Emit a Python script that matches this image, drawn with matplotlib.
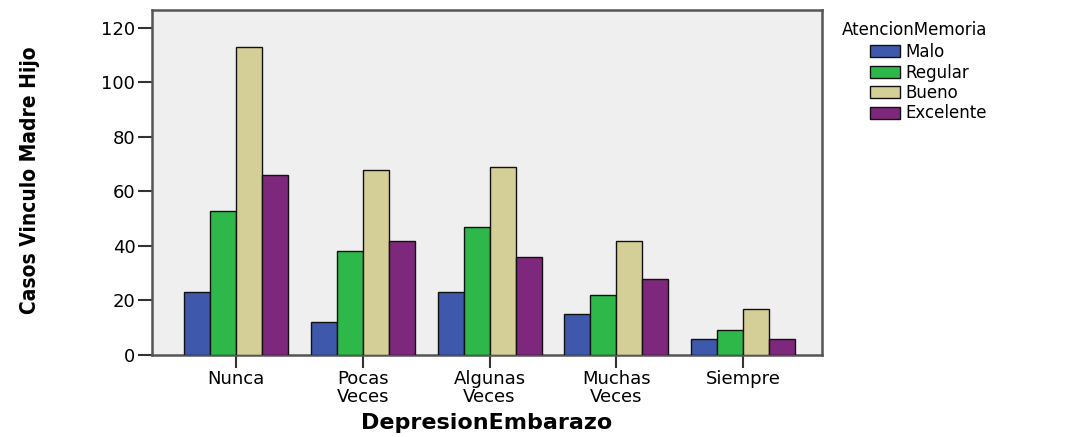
import matplotlib
matplotlib.use("Agg")
import matplotlib.pyplot as plt
import numpy as np
from matplotlib.patches import Patch

categories = ["Nunca", "Pocas\nVeces", "Algunas\nVeces", "Muchas\nVeces", "Siempre"]
series_names = ["Malo", "Regular", "Bueno", "Excelente"]
malo = [23, 12, 23, 15, 6]
regular = [53, 38, 47, 22, 9]
bueno = [113, 68, 69, 42, 17]
excelente = [66, 42, 36, 28, 6]
yticks = [0, 20, 40, 60, 80, 100, 120]
colors = ["#3E58AC", "#2EB84A", "#D4CF97", "#7E287D"]

W, H = 1087, 437
fig = plt.figure(figsize=(W / 100, H / 100), dpi=100)
ax = fig.add_axes([152 / W, 1 - 355 / H, (822 - 152) / W, (355 - 10) / H])
ax.set_facecolor("#EFEFEF")

x = np.arange(len(categories))
bw = 0.205
data = [malo, regular, bueno, excelente]
for i, (vals, c, name) in enumerate(zip(data, colors, series_names)):
    ax.bar(x + (i - 1.5) * bw, vals, width=bw, color=c, edgecolor="#111111",
           linewidth=1.0, label=name, zorder=3)

ax.set_xlim(-0.66, 4.62)
ax.set_ylim(0, 126.6)
ax.set_yticks(yticks)
ax.set_xticks(x)
ax.set_xticklabels(categories, fontsize=13, family="DejaVu Sans", linespacing=0.95)
for lab in ax.get_yticklabels():
    lab.set_fontsize(13)
    lab.set_family("DejaVu Sans")
ax.tick_params(axis="y", direction="out", length=10, width=1.5, color="#333333", pad=2)
ax.tick_params(axis="x", direction="out", length=9, width=1.5, color="#333333", pad=2)
for s in ax.spines.values():
    s.set_color("#555555")
    s.set_linewidth(1.8)

fig.text(487 / W, 1 - 423 / H, "DepresionEmbarazo", fontsize=16, fontweight="bold",
         family="DejaVu Sans", ha="center", va="center")
fig.text(30 / W, 1 - 180 / H, "Casos Vinculo Madre Hijo", rotation=90, ha="center", va="center",
         fontsize=15, fontweight="bold", fontstretch="condensed", family="DejaVu Sans")

fig.text(842 / W, 1 - 30 / H, "AtencionMemoria", fontsize=12, family="DejaVu Sans",
         ha="left", va="center")
handles = [Patch(facecolor=c, edgecolor="#111111", linewidth=1.0) for c in colors]
fig.legend(handles, series_names, loc="upper left", bbox_to_anchor=(870 / W, 1 - 43 / H),
           frameon=False, prop={"family": "DejaVu Sans", "size": 12},
           handlelength=1.8, handleheight=0.75, handletextpad=0.3, labelspacing=0.15,
           borderpad=0, borderaxespad=0)

fig.savefig("out.png", dpi=100)
